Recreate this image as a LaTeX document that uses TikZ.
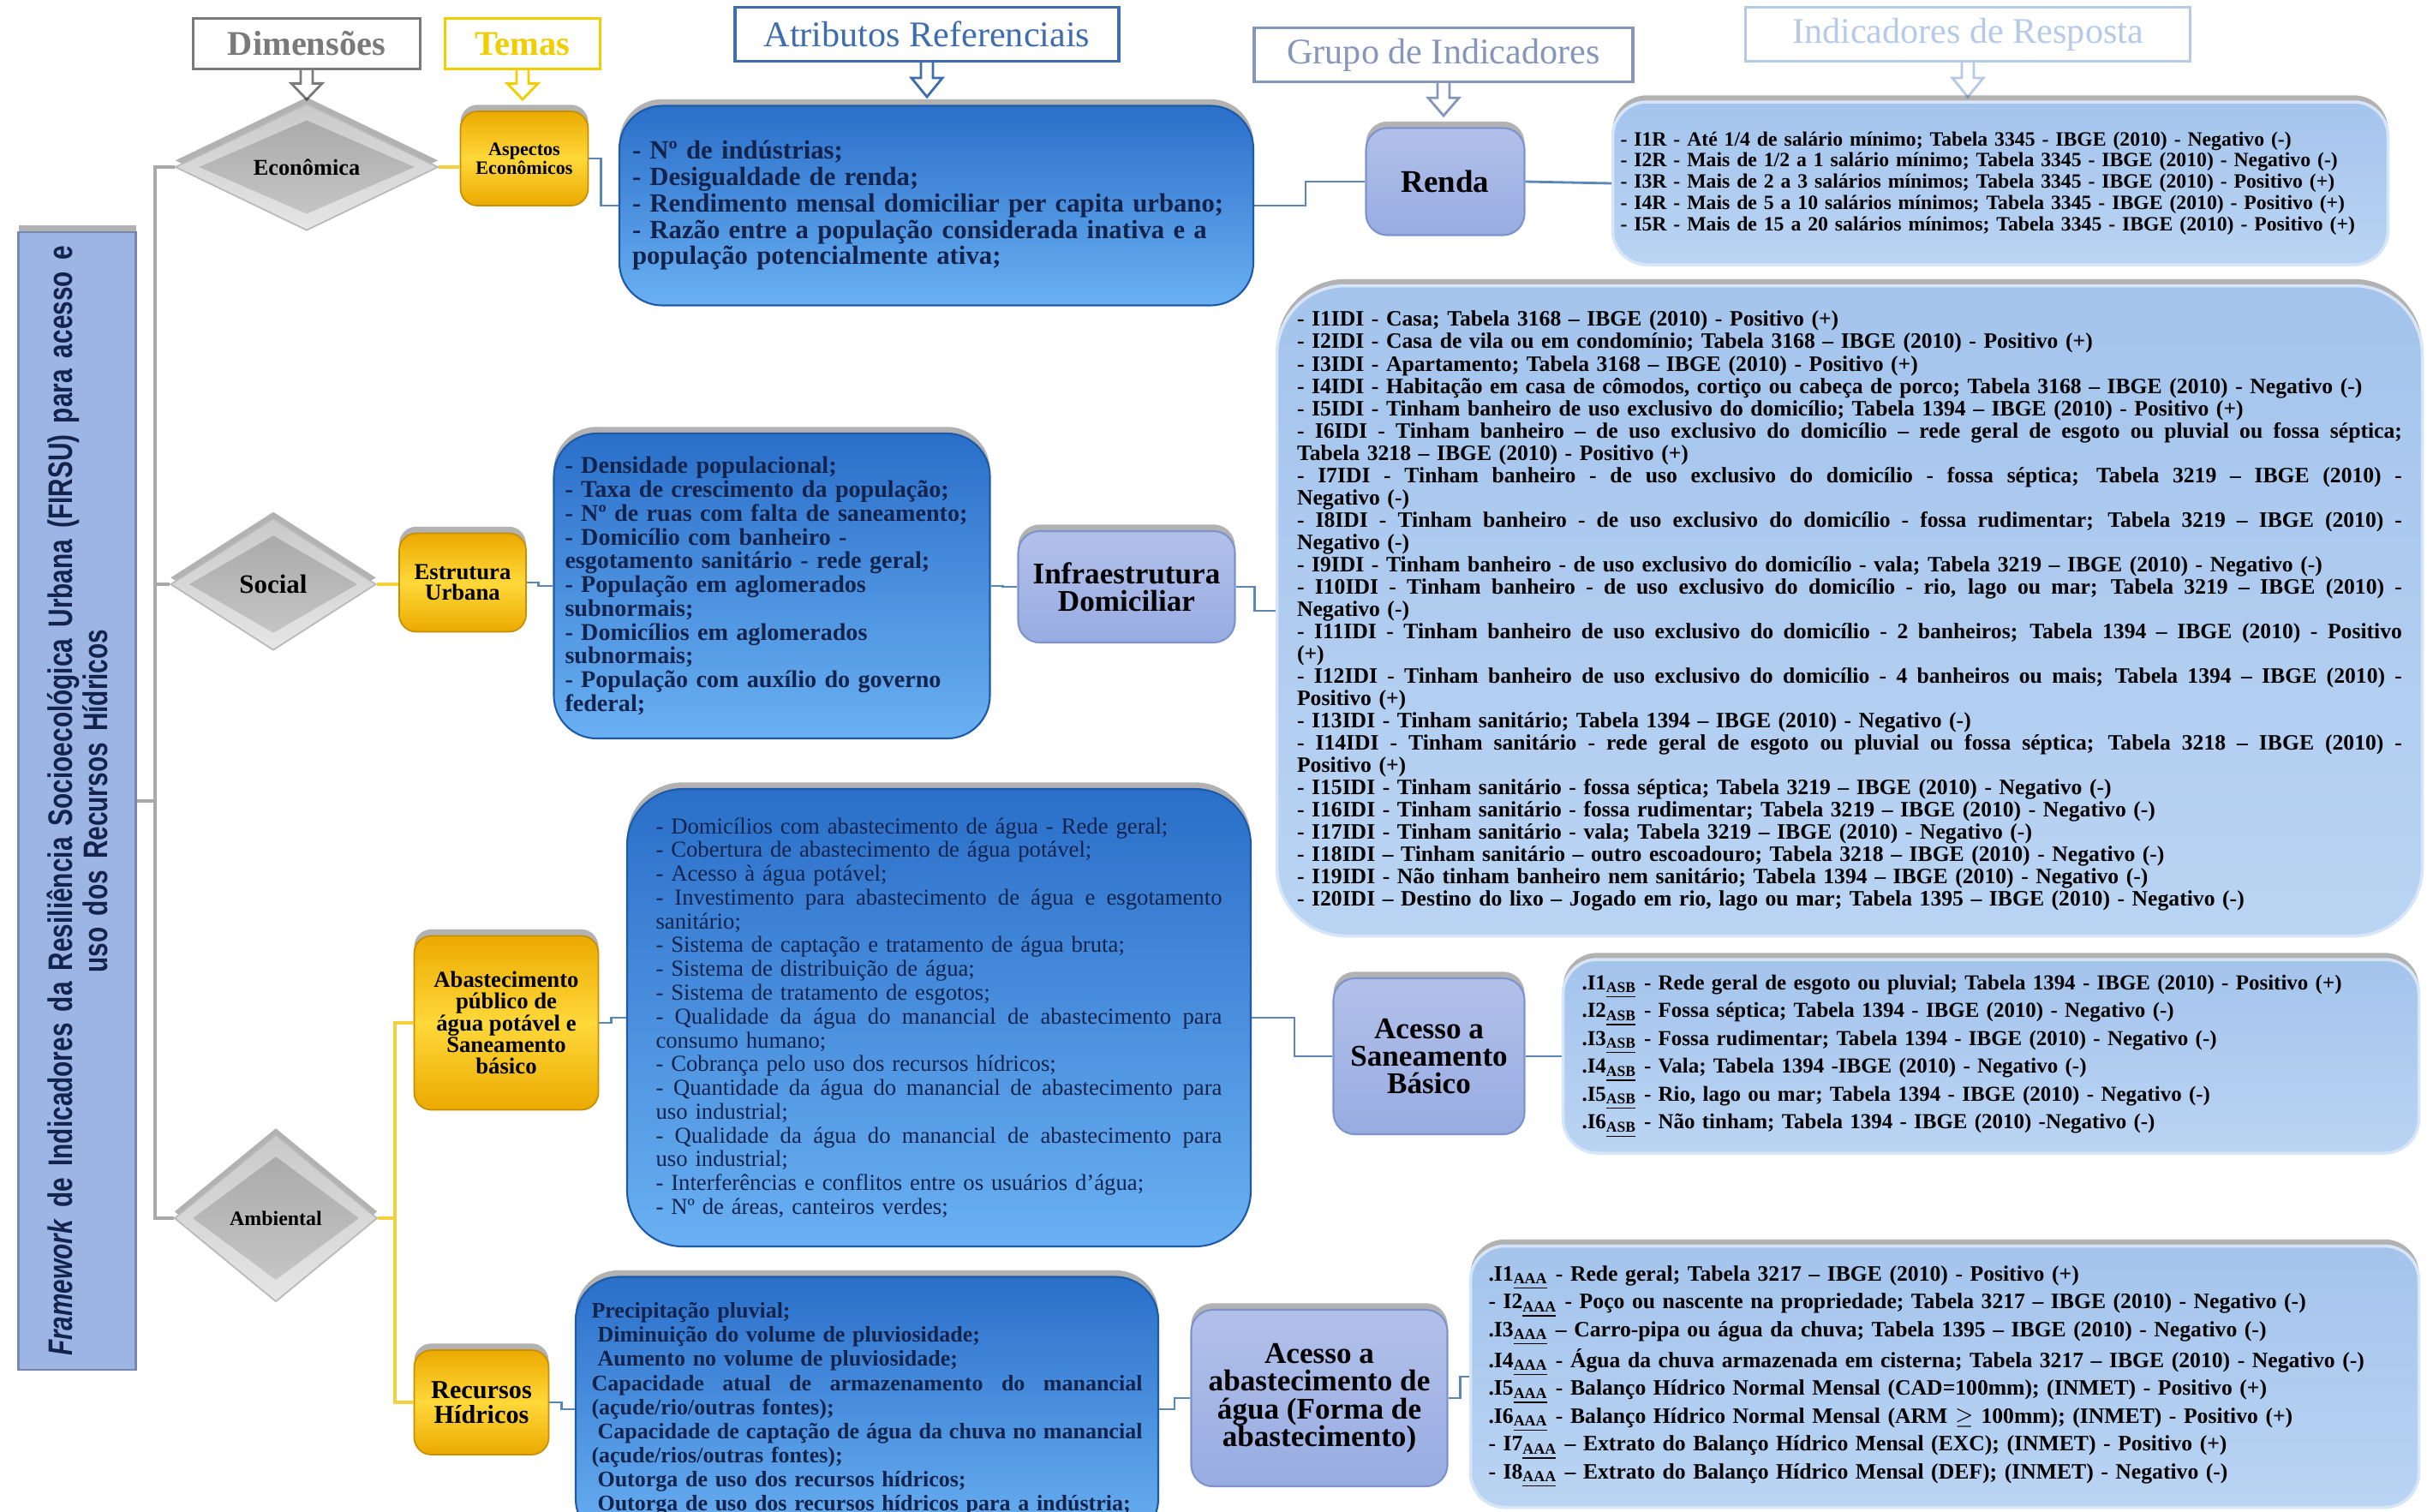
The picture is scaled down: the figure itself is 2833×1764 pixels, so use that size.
\documentclass[tikz,border=0pt]{standalone}
\usepackage{fontspec}
\setmainfont{Liberation Serif}
\newfontfamily\narrowsf[FakeStretch=0.75]{Liberation Sans}
\usetikzlibrary{shapes.geometric,shadows,calc}

\definecolor{treegrey}{HTML}{A9A9A9}
\definecolor{themeyellow}{HTML}{F3D13C}
\definecolor{linkblue}{HTML}{5B87B8}
\definecolor{attrdark}{HTML}{2A6FC9}
\definecolor{attrlight}{HTML}{6AB0F2}
\definecolor{attredge}{HTML}{1D5AA8}
\definecolor{listfill}{HTML}{A4C4EC}
\definecolor{listlight}{HTML}{BAD4F3}
\definecolor{listedge}{HTML}{D6E6F8}
\definecolor{groupfill}{HTML}{98ACE2}
\definecolor{groupedge}{HTML}{7D93CE}
\definecolor{goldA}{HTML}{EBAA00}
\definecolor{goldB}{HTML}{FFD83A}
\definecolor{framefill}{HTML}{9DB5E4}
\definecolor{navytext}{HTML}{13234C}
\definecolor{hdrgrey}{HTML}{7A7A7A}
\definecolor{hdryellow}{HTML}{F0CE00}
\definecolor{hdrblue}{HTML}{3D6DAD}
\definecolor{hdrslate}{HTML}{8696BA}
\definecolor{hdrpale}{HTML}{B5CAE6}

\newcommand{\fs}[2]{\fontsize{#1}{#2}\selectfont}
% a line spread over the full text width of its box
\newlength{\jlw}
\newcommand{\jl}[1]{\leavevmode\hbox to \jlw{\spaceskip=0.25em plus 3em minus 0.05em\relax #1}}
\newcommand{\idxsub}[1]{\textsubscript{\underline{#1}}}
% hollow block arrow under a column header: node, length (px), colour
\newcommand{\hdrarrow}[3]{%
  \draw[draw=#3, fill=white, line width=0.8pt, line join=miter]
    ($(#1.south)+(-7,0)$) -- ($(#1.south)+(-7,{0.45*#2})$) -- ($(#1.south)+(-18,{0.45*#2})$)
    -- ($(#1.south)+(0,#2)$) -- ($(#1.south)+(18,{0.45*#2})$) -- ($(#1.south)+(7,{0.45*#2})$)
    -- ($(#1.south)+(7,0)$);}

\begin{document}
\begin{tikzpicture}[x=0.1mm, y=-0.1mm,
  tree/.style={draw=treegrey, line width=0.9pt},
  yline/.style={draw=themeyellow, line width=1.1pt},
  link/.style={draw=linkblue, line width=0.8pt},
  tw/.style={text width=#1, execute at begin node={\setlength{\jlw}{#1}}},
  softshadow/.style={general shadow={fill=black, opacity=0.3, shadow xshift=0pt, shadow yshift=2.2pt}},
  hdr/.style={draw=#1, text=#1, fill=white, line width=0.9pt, inner sep=0pt, font=\fs{12}{12}},
  dim/.style={diamond, inner sep=0pt, draw=gray!55, line width=0.5pt,
     top color=gray!42, bottom color=gray!20, softshadow, font=\bfseries,
     path picture={\shade[top color=gray!70, bottom color=gray!42]
        ($(path picture bounding box.north)!0.13!(path picture bounding box.south)$) --
        ($(path picture bounding box.east)!0.09!(path picture bounding box.west)$) --
        ($(path picture bounding box.south)!0.13!(path picture bounding box.north)$) --
        ($(path picture bounding box.west)!0.09!(path picture bounding box.east)$) -- cycle;}},
  theme/.style={rounded corners=2mm, draw=goldA!85!black, line width=0.5pt,
     top color=goldA, bottom color=goldA, middle color=goldB, softshadow,
     font=\bfseries, align=center, inner sep=1pt, text=black},
  attr/.style={rounded corners=5mm, draw=attredge, line width=0.6pt,
     top color=attrdark, bottom color=attrlight, softshadow,
     text=navytext, align=left, inner sep=0pt},
  grp/.style={rounded corners=2.5mm, draw=groupedge, line width=0.6pt,
     top color=groupfill!75!white, bottom color=groupfill, softshadow,
     font=\bfseries\fs{10}{9.2}, align=center, inner sep=1pt, text=black},
  lst/.style={rounded corners=4mm, draw=listedge, line width=1pt,
     top color=listfill, bottom color=listlight, softshadow,
     align=left, inner sep=0pt, text=black},
  frame/.style={draw=framefill!75!black, line width=0.6pt, fill=framefill, softshadow,
     align=center, inner sep=0pt, text=navytext, font=\narrowsf\bfseries\fs{11.3}{10.3}}
]
\useasboundingbox (0,0) rectangle (2833,1764);
\clip (0,0) rectangle (2833,1764);
\fill[white] (0,0) rectangle (2833,1764);

% ---------- column headers ----------
\node[hdr=hdrgrey, font=\bfseries\fs{11.5}{12}, minimum width=26.5mm, minimum height=5.9mm] (hdim) at (358,51) {Dimensões};
\node[hdr=hdryellow, font=\bfseries\fs{11.5}{12}, minimum width=18.1mm, minimum height=5.9mm] (htem) at (610,51) {Temas};
\node[hdr=hdrblue, minimum width=44.8mm, minimum height=6.3mm] (hatr) at (1082,40) {Atributos Referenciais};
\node[hdr=hdrslate, minimum width=44.2mm, minimum height=6.3mm] (hgrp) at (1685,64) {Grupo de Indicadores};
\node[hdr=hdrpale, minimum width=51.9mm, minimum height=6.3mm] (hind) at (2297,40) {Indicadores de Resposta};
\hdrarrow{hdim}{34}{hdrgrey}
\hdrarrow{htem}{34}{hdryellow}
\hdrarrow{hatr}{40}{hdrblue}
\hdrarrow{hgrp}{38}{hdrslate}
\hdrarrow{hind}{40}{hdrpale}

% ---------- framework title ----------
\node[frame, rotate=90, minimum width=132.8mm, minimum height=13.7mm, text width=130mm] (frame) at (90,935)
  {\textit{Framework} de Indicadores da Resiliência Socioecológica Urbana (FIRSU) para acesso e\\ uso dos Recursos Hídricos};

% ---------- dimensions ----------
\node[dim, minimum width=30.7mm, minimum height=14.8mm, font=\bfseries\fs{7.5}{8}] (eco) at (358,195) {Econômica};
\node[dim, minimum width=24mm, minimum height=15.4mm, font=\bfseries\fs{8.8}{9}] (soc) at (319,682) {Social};
\node[dim, minimum width=23.7mm, minimum height=19.5mm, font=\bfseries\fs{6.8}{7}] (amb) at (322,1422) {Ambiental};

% ---------- themes ----------
\node[theme, minimum width=14.9mm, minimum height=11mm, font=\bfseries\fs{6.3}{6.2}] (asp) at (612,185) {Aspectos\\Econômicos};
\node[theme, minimum width=14.8mm, minimum height=11.5mm, font=\bfseries\fs{7.6}{7}] (est) at (540,680) {Estrutura\\Urbana};
\node[theme, minimum width=21.5mm, minimum height=20.3mm, font=\bfseries\fs{7.6}{7.2}] (abs) at (591,1194) {Abastecimento\\público de\\água potável e\\Saneamento\\básico};
\node[theme, minimum width=15.7mm, minimum height=12.2mm, font=\bfseries\fs{8.6}{8.2}] (rec) at (562,1637) {Recursos\\Hídricos};

% ---------- reference attributes ----------
\node[attr, minimum width=74mm, minimum height=23.3mm, tw=71mm, font=\bfseries\fs{8.75}{8.75}] (at1) at (1093,240) {%
- Nº de indústrias;\\
- Desigualdade de renda;\\
- Rendimento mensal domiciliar per capita urbano;\\
- Razão entre a população considerada inativa e a\\
população potencialmente ativa;};

\node[attr, minimum width=50.9mm, minimum height=35.6mm, tw=48.3mm, font=\bfseries\fs{8}{7.9}] (at2) at (901,684) {%
- Densidade populacional;\\
- Taxa de crescimento da população;\\
- Nº de ruas com falta de saneamento;\\
- Domicílio com banheiro -\\
esgotamento sanitário - rede geral;\\
- População em aglomerados\\
subnormais;\\
- Domicílios em aglomerados\\
subnormais;\\
- População com auxílio do governo\\
federal;};

\node[attr, rounded corners=6.5mm, minimum width=72.8mm, minimum height=53.4mm, tw=66.1mm, font=\fs{7.6}{7.9}] (at3) at (1096,1188) {%
- Domicílios com abastecimento de água - Rede geral;\\
- Cobertura de abastecimento de água potável;\\
- Acesso à água potável;\\
\jl{- Investimento para abastecimento de água e esgotamento}\\
sanitário;\\
- Sistema de captação e tratamento de água bruta;\\
- Sistema de distribuição de água;\\
- Sistema de tratamento de esgotos;\\
\jl{- Qualidade da água do manancial de abastecimento para}\\
consumo humano;\\
- Cobrança pelo uso dos recursos hídricos;\\
\jl{- Quantidade da água do manancial de abastecimento para}\\
uso industrial;\\
\jl{- Qualidade da água do manancial de abastecimento para}\\
uso industrial;\\
- Interferências e conflitos entre os usuários d'água;\\
- Nº de áreas, canteiros verdes;};

\node[attr, minimum width=68mm, minimum height=30.9mm, tw=64.3mm, font=\bfseries\fs{7.4}{8}] (at4) at (1012,1645) {%
Precipitação pluvial;\\
\hspace*{2pt}Diminuição do volume de pluviosidade;\\
\hspace*{2pt}Aumento no volume de pluviosidade;\\
\jl{Capacidade atual de armazenamento do manancial}\\
(açude/rio/outras fontes);\\
\jl{\hspace*{2pt}Capacidade de captação de água da chuva no manancial}\\
(açude/rios/outras fontes);\\
\hspace*{2pt}Outorga de uso dos recursos hídricos;\\
\hspace*{2pt}Outorga de uso dos recursos hídricos para a indústria;};

% ---------- indicator groups ----------
\node[grp, minimum width=18.5mm, minimum height=12.5mm, font=\bfseries\fs{10.5}{10}] (renda) at (1687,212) {Renda};
\node[grp, minimum width=25.3mm, minimum height=13mm] (infra) at (1315,685) {Infraestrutura\\Domiciliar};
\node[grp, minimum width=22.3mm, minimum height=18.2mm] (asbg) at (1668,1233) {Acesso a\\Saneamento\\Básico};
\node[grp, minimum width=29.9mm, minimum height=20.6mm] (aaag) at (1540,1632) {Acesso a\\abastecimento de\\água (Forma de\\abastecimento)};

% ---------- response indicators ----------
\node[lst, minimum width=90.5mm, minimum height=19mm, tw=88.7mm, font=\bfseries\fs{6.75}{7.05}] (l1) at (2335,214) {%
- I1R - Até 1/4 de salário mínimo; Tabela 3345 - IBGE (2010) - Negativo (-)\\
- I2R - Mais de 1/2 a 1 salário mínimo; Tabela 3345 - IBGE (2010) - Negativo (-)\\
- I3R - Mais de 2 a 3 salários mínimos; Tabela 3345 - IBGE (2010) - Positivo (+)\\
- I4R - Mais de 5 a 10 salários mínimos; Tabela 3345 - IBGE (2010) - Positivo (+)\\
- I5R - Mais de 15 a 20 salários mínimos; Tabela 3345 - IBGE (2010) - Positivo (+)};

\node[lst, rounded corners=8mm, minimum width=133.7mm, minimum height=75.9mm, tw=129mm, font=\bfseries\fs{7.3}{7.4}] (l2) at (2159,713) {%
- I1IDI - Casa; Tabela 3168 – IBGE (2010) - Positivo (+)\\
- I2IDI - Casa de vila ou em condomínio; Tabela 3168 – IBGE (2010) - Positivo (+)\\
- I3IDI - Apartamento; Tabela 3168 – IBGE (2010) - Positivo (+)\\
- I4IDI - Habitação em casa de cômodos, cortiço ou cabeça de porco; Tabela 3168 – IBGE (2010) - Negativo (-)\\
- I5IDI - Tinham banheiro de uso exclusivo do domicílio; Tabela 1394 – IBGE (2010) - Positivo (+)\\
\jl{- I6IDI - Tinham banheiro – de uso exclusivo do domicílio – rede geral de esgoto ou pluvial ou fossa séptica;}\\
Tabela 3218 – IBGE (2010) - Positivo (+)\\
\jl{- I7IDI - Tinham banheiro - de uso exclusivo do domicílio - fossa séptica; Tabela 3219 – IBGE (2010) -}\\
Negativo (-)\\
\jl{- I8IDI - Tinham banheiro - de uso exclusivo do domicílio - fossa rudimentar; Tabela 3219 – IBGE (2010) -}\\
Negativo (-)\\
- I9IDI - Tinham banheiro - de uso exclusivo do domicílio - vala; Tabela 3219 – IBGE (2010) - Negativo (-)\\
\jl{- I10IDI - Tinham banheiro - de uso exclusivo do domicílio - rio, lago ou mar; Tabela 3219 – IBGE (2010) -}\\
Negativo (-)\\
\jl{- I11IDI - Tinham banheiro de uso exclusivo do domicílio - 2 banheiros; Tabela 1394 – IBGE (2010) - Positivo}\\
(+)\\
\jl{- I12IDI - Tinham banheiro de uso exclusivo do domicílio - 4 banheiros ou mais; Tabela 1394 – IBGE (2010) -}\\
Positivo (+)\\
- I13IDI - Tinham sanitário; Tabela 1394 – IBGE (2010) - Negativo (-)\\
\jl{- I14IDI - Tinham sanitário - rede geral de esgoto ou pluvial ou fossa séptica; Tabela 3218 – IBGE (2010) -}\\
Positivo (+)\\
- I15IDI - Tinham sanitário - fossa séptica; Tabela 3219 – IBGE (2010) - Negativo (-)\\
- I16IDI - Tinham sanitário - fossa rudimentar; Tabela 3219 – IBGE (2010) - Negativo (-)\\
- I17IDI - Tinham sanitário - vala; Tabela 3219 – IBGE (2010) - Negativo (-)\\
- I18IDI – Tinham sanitário – outro escoadouro; Tabela 3218 – IBGE (2010) - Negativo (-)\\
- I19IDI - Não tinham banheiro nem sanitário; Tabela 1394 – IBGE (2010) - Negativo (-)\\
- I20IDI – Destino do lixo – Jogado em rio, lago ou mar; Tabela 1395 – IBGE (2010) - Negativo (-)};

\node[lst, minimum width=99.9mm, minimum height=22.6mm, tw=95.5mm, font=\bfseries\fs{7.1}{9.25}] (l3) at (2324,1233) {%
.I1\idxsub{ASB} - Rede geral de esgoto ou pluvial; Tabela 1394 - IBGE (2010) - Positivo (+)\\
.I2\idxsub{ASB} - Fossa séptica; Tabela 1394 - IBGE (2010) - Negativo (-)\\
.I3\idxsub{ASB} - Fossa rudimentar; Tabela 1394 - IBGE (2010) - Negativo (-)\\
.I4\idxsub{ASB} - Vala; Tabela 1394 -IBGE (2010) - Negativo (-)\\
.I5\idxsub{ASB} - Rio, lago ou mar; Tabela 1394 - IBGE (2010) - Negativo (-)\\
.I6\idxsub{ASB} - Não tinham; Tabela 1394 - IBGE (2010) -Negativo (-)};

\node[lst, minimum width=110.7mm, minimum height=30.5mm, tw=106.5mm, font=\bfseries\fs{7.3}{9.25}] (l4) at (2270,1607) {%
.I1\idxsub{AAA} - Rede geral; Tabela 3217 – IBGE (2010) - Positivo (+)\\
- I2\idxsub{AAA} - Poço ou nascente na propriedade; Tabela 3217 – IBGE (2010) - Negativo (-)\\
.I3\idxsub{AAA} – Carro-pipa ou água da chuva; Tabela 1395 – IBGE (2010) - Negativo (-)\\
.I4\idxsub{AAA} - Água da chuva armazenada em cisterna; Tabela 3217 – IBGE (2010) - Negativo (-)\\
.I5\idxsub{AAA} - Balanço Hídrico Normal Mensal (CAD=100mm); (INMET) - Positivo (+)\\
.I6\idxsub{AAA} - Balanço Hídrico Normal Mensal (ARM $\geq$ 100mm); (INMET) - Positivo (+)\\
- I7\idxsub{AAA} – Extrato do Balanço Hídrico Mensal (EXC); (INMET) - Positivo (+)\\
- I8\idxsub{AAA} – Extrato do Balanço Hídrico Mensal (DEF); (INMET) - Negativo (-)};

% ---------- grey tree: framework to dimensions ----------
\coordinate (trunk) at (181,0);
\draw[tree] (eco.west) -- (eco.west -| trunk) -- (amb.west -| trunk) -- (amb.west);
\draw[tree] (soc.west) -- (soc.west -| trunk);
\draw[tree] (frame.south) -- (frame.south -| trunk);

% ---------- yellow links: dimensions to themes ----------
\coordinate (ytrunk) at (461,0);
\draw[yline] (eco.east) -- (eco.east -| asp.west);
\draw[yline] (soc.east) -- (soc.east -| est.west);
\draw[yline] (amb.east) -- (amb.east -| ytrunk);
\draw[yline] (abs.west) -- (abs.west -| ytrunk) -- (rec.west -| ytrunk) -- (rec.west);

% ---------- blue links along each row ----------
\draw[link] (asp.east) -- ++(14,0) |- (at1.west);
\draw[link] (at1.east) -- ++(60,0) |- (renda.west);
\draw[link] (renda.east) -- (l1.west);
\draw[link] (est.east) -- ++(14,0) |- (at2.west);
\draw[link] (at2.east) -- ++(14,0) |- (infra.west);
\draw[link] (infra.east) -- ++(22,0) |- (l2.west);
\draw[link] (abs.east) -- ++(14,0) |- (at3.west);
\draw[link] (at3.east) -- ++(50,0) |- (asbg.west);
\draw[link] (asbg.east) -- (l3.west);
\draw[link] (rec.east) -- ++(14,0) |- (at4.west);
\draw[link] (at4.east) -- ++(18,0) |- (aaag.west);
\draw[link] (aaag.east) -- ++(14,0) |- (l4.west);
\end{tikzpicture}
\end{document}
